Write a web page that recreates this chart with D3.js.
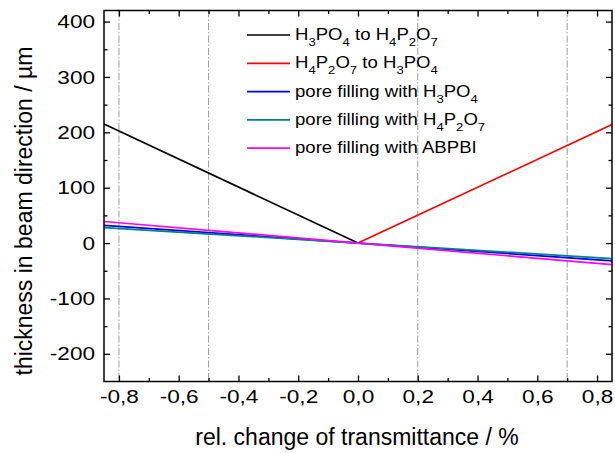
<!DOCTYPE html>
<html>
<head>
<meta charset="utf-8">
<script src="https://cdn.jsdelivr.net/npm/d3@7"></script>
<style>
  body { margin: 0; background: #fff; }
  text { font-family: "Liberation Sans", Arial, sans-serif; fill: #000; }
</style>
</head>
<body>
<svg id="grafico"></svg>
<script>
// valores
const xTicks = [-0.8, -0.6, -0.4, -0.2, 0.0, 0.2, 0.4, 0.6, 0.8];
const xMinor = [-0.7, -0.5, -0.3, -0.1, 0.1, 0.3, 0.5, 0.7];
const yTicks = [-200, -100, 0, 100, 200, 300, 400];
const yMinor = [-150, -50, 50, 150, 250, 350];
const linhasRef = [-0.8, -0.5, 0.2, 0.7];

const nomes = [
    'H_3PO_4 to H_4P_2O_7',
    'H_4P_2O_7 to H_3PO_4',
    'pore filling with H_3PO_4',
    'pore filling with H_4P_2O_7',
    'pore filling with ABPBI'
];
const cores = ['#000000', '#ff0000', '#0000ff', '#008080', '#ff00ff'];

const serieH3toH4 = [[-0.85, 215], [0, 0]];
const serieH4toH3 = [[0, 0], [0.85, 214]];
const seriePoroH3 = [[-0.85, 32], [0, 0], [0.85, -32]];
const seriePoroH4 = [[-0.85, 28], [0, 0], [0.85, -28]];
const seriePoroABPBI = [[-0.85, 39], [0, 0], [0.85, -39]];
const series = [serieH3toH4, serieH4toH3, seriePoroH3, seriePoroH4, seriePoroABPBI];

const largura = 615, altura = 453;
const margem = { esquerda: 104, direita: 3, superior: 10.5, inferior: 71.5 };
const larguraPlotagem = largura - margem.esquerda - margem.direita;
const alturaPlotagem = altura - margem.superior - margem.inferior;

const svg = d3.select('#grafico').attr('width', largura).attr('height', altura);
const plotagem = svg.append('g')
    .attr('transform', 'translate(' + margem.esquerda + ',' + margem.superior + ')');

const fnX = d3.scaleLinear().domain([-0.85, 0.85]).range([0, larguraPlotagem]);
const fnY = d3.scaleLinear().domain([-250, 420]).range([alturaPlotagem, 0]);

const fmtX = v => d3.format('.1f')(v).replace('−', '-').replace('.', ',');
const fmtY = v => d3.format('d')(v).replace('−', '-');

// linhas verticais traço-ponto
plotagem.selectAll('.ref').data(linhasRef).enter().append('line')
    .attr('x1', d => fnX(d)).attr('x2', d => fnX(d))
    .attr('y1', 0).attr('y2', alturaPlotagem)
    .attr('stroke', '#9a9a9a').attr('stroke-width', 1)
    .attr('stroke-dasharray', '7,2,1.5,2');

// séries
const linha = d3.line().x(d => fnX(d[0])).y(d => fnY(d[1]));
plotagem.selectAll('.serie').data(series).enter().append('path')
    .attr('d', linha)
    .attr('fill', 'none')
    .attr('stroke', (d, i) => cores[i])
    .attr('stroke-width', 1.7);

function eixo(gerador, transf, valores, tamanho, formato) {
    gerador.tickValues(valores).tickSizeInner(-tamanho).tickSizeOuter(0)
        .tickFormat(formato || '');
    const g = plotagem.append('g').attr('transform', transf).call(gerador);
    g.select('.domain').remove();
    g.selectAll('line').attr('stroke', '#000').attr('stroke-width', 1.3);
    g.attr('font-size', 19).attr('font-family', '"Liberation Sans", Arial, sans-serif');
    return g;
}

// eixos principais e menores
const eixoX = eixo(d3.axisBottom(fnX).tickPadding(8), 'translate(0,' + alturaPlotagem + ')', xTicks, 6, fmtX);
eixo(d3.axisBottom(fnX), 'translate(0,' + alturaPlotagem + ')', xMinor, 3.5);
eixo(d3.axisTop(fnX), 'translate(0,0)', xTicks, 6);
eixo(d3.axisTop(fnX), 'translate(0,0)', xMinor, 3.5);
const eixoY = eixo(d3.axisLeft(fnY).tickPadding(7.5), 'translate(0,0)', yTicks, 6, fmtY);
eixo(d3.axisLeft(fnY), 'translate(0,0)', yMinor, 3.5);
eixo(d3.axisRight(fnY), 'translate(' + larguraPlotagem + ',0)', yTicks, 6);
eixo(d3.axisRight(fnY), 'translate(' + larguraPlotagem + ',0)', yMinor, 3.5);

// rótulos um pouco mais largos, como no original
eixoX.selectAll('text').attr('fill', '#000').attr('transform', 'scale(1.19,1)');
eixoY.selectAll('text').attr('fill', '#000').attr('transform', 'scale(1.19,1)');

// moldura
plotagem.append('rect')
    .attr('width', larguraPlotagem).attr('height', alturaPlotagem)
    .attr('fill', 'none').attr('stroke', '#000').attr('stroke-width', 1.5);

// títulos
svg.append('text')
    .attr('x', 357).attr('y', 445)
    .style('text-anchor', 'middle').style('font-size', '23px')
    .text('rel. change of transmittance / %');

svg.append('text')
    .attr('transform', 'translate(32,211) rotate(-90)')
    .style('text-anchor', 'middle').style('font-size', '23px')
    .text('thickness in beam direction / µm');

// legenda
const legenda = svg.append('g').attr('transform', 'translate(247,35)');
nomes.forEach((nome, i) => {
    const y = i * 28.3;
    legenda.append('line')
        .attr('x1', 0).attr('x2', 43).attr('y1', y).attr('y2', y)
        .attr('stroke', cores[i]).attr('stroke-width', 1.7);
    const t = legenda.append('text')
        .attr('transform', 'translate(48,' + (y + 5) + ') scale(1.14,1)')
        .style('font-size', '16.3px');
    const partes = nome.split(/_(\d)/);
    let desloc = 0;
    partes.forEach((p, j) => {
        if (!p.length) return;
        if (j % 2 === 1) {
            t.append('tspan').attr('dy', 6 - desloc).style('font-size', '11.5px').text(p);
            desloc = 6;
        } else {
            t.append('tspan').attr('dy', -desloc).text(p);
            desloc = 0;
        }
    });
});
</script>
</body>
</html>
